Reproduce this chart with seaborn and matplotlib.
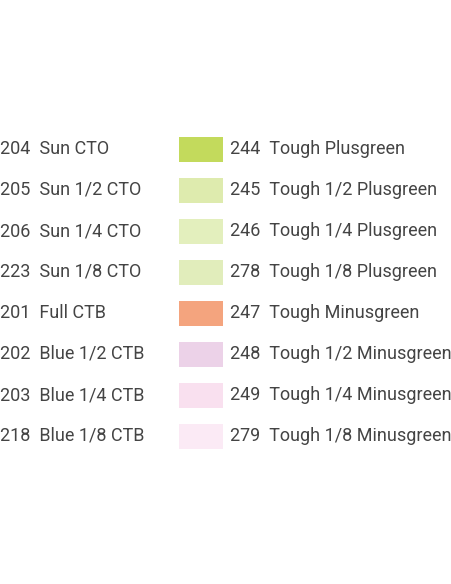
import matplotlib
matplotlib.use("Agg")
import matplotlib.pyplot as plt
import seaborn as sns

left_labels = ["204  Sun CTO", "205  Sun 1/2 CTO", "206  Sun 1/4 CTO", "223  Sun 1/8 CTO",
               "201  Full CTB", "202  Blue 1/2 CTB", "203  Blue 1/4 CTB", "218  Blue 1/8 CTB"]
right_labels = ["244  Tough Plusgreen", "245  Tough 1/2 Plusgreen", "246  Tough 1/4 Plusgreen",
                "278  Tough 1/8 Plusgreen", "247  Tough Minusgreen", "248  Tough 1/2 Minusgreen",
                "249  Tough 1/4 Minusgreen", "279  Tough 1/8 Minusgreen"]
swatch_colors = ["#c3da5c", "#deebae", "#e3efbd", "#e1edbb", "#f4a47e", "#ecd2e8", "#f9e0ef", "#fbeaf5"]

sns.set_theme(style="white")
plt.rcParams["font.family"] = ["Roboto", "DejaVu Sans"]

fig = plt.figure(figsize=(4.52, 5.84), dpi=100)
ax = fig.add_axes([0, 0, 1, 1])
ax.set_xlim(0, 452)
ax.set_ylim(584, 0)
ax.axis("off")

rows = [149 + 41 * i for i in range(len(left_labels))]
ax.barh(rows, 44, left=179, height=25, color=swatch_colors, linewidth=0)
for y, l, r in zip(rows, left_labels, right_labels):
    ax.text(0, y, l, fontsize=13, color="#444444", va="center", ha="left")
    ax.text(230, y, r, fontsize=13, color="#444444", va="center", ha="left")

fig.savefig("out.png", dpi=100)
